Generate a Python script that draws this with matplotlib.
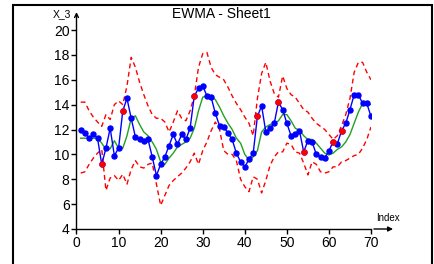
import matplotlib
matplotlib.use('Agg')
import matplotlib.pyplot as plt
from matplotlib.patches import Rectangle
import numpy as np

plt.rcParams['font.family'] = ['Liberation Sans', 'DejaVu Sans']

index = list(range(1, 71))

x3 = [12.0, 11.7, 11.3, 11.6, 11.3, 9.2, 10.5, 12.1, 9.9, 10.5,
      13.5, 14.5, 12.9, 11.4, 11.2, 11.1, 11.2, 9.8, 8.3, 9.2,
      9.8, 10.7, 11.6, 10.8, 11.6, 11.2, 12.1, 14.7, 15.3, 15.5,
      14.7, 14.6, 13.3, 12.3, 12.2, 11.7, 11.2, 10.1, 9.4, 9.0,
      9.6, 10.1, 13.05, 13.9, 11.8, 12.1, 12.5, 14.2, 13.6, 12.5,
      11.5, 11.6, 11.9, 10.2, 11.1, 11.0, 10.0, 9.8, 9.7, 10.3,
      11.0, 10.85, 11.9, 12.5, 13.6, 14.8, 14.8, 14.1, 14.1, 13.05]

ewma = [11.3, 11.3, 11.3, 11.3, 11.3, 10.9, 10.4, 10.45, 11.1, 10.5,
        10.5, 11.5, 12.9, 13.1, 12.4, 11.8, 11.5, 11.0, 10.4, 9.4,
        9.2, 9.7, 10.1, 10.6, 10.8, 11.0, 11.3, 12.1, 13.5, 14.6,
        14.7, 14.7, 14.4, 13.8, 13.1, 12.5, 12.0, 11.3, 10.9, 10.0,
        9.55, 9.8, 10.3, 11.8, 12.2, 12.4, 12.5, 12.7, 13.2, 13.2,
        12.7, 12.1, 11.95, 11.5, 11.2, 11.2, 10.9, 10.5, 10.1, 9.95,
        10.1, 10.4, 10.6, 11.0, 11.6, 12.5, 13.4, 14.1, 14.1, 14.0]

upper = [14.2, 14.2, 13.5, 13.0, 12.6, 12.25, 13.2, 12.8, 14.0, 14.3,
         14.0, 15.5, 17.8, 17.0, 15.8, 14.8, 13.9, 13.2, 12.9, 12.9,
         12.6, 11.8, 12.6, 13.5, 12.9, 12.7, 13.5, 14.7, 17.0, 18.1,
         18.2, 17.0, 16.4, 16.2, 16.0, 15.4, 14.7, 14.1, 13.6, 13.0,
         12.5, 11.5, 14.5, 16.5, 17.4, 15.9, 14.9, 14.6, 16.3, 15.3,
         14.8, 14.6, 14.1, 13.6, 13.4, 12.9, 12.5, 12.25, 12.0, 11.6,
         11.2, 11.5, 12.3, 13.2, 14.5, 16.6, 17.4, 17.4, 16.6, 16.0]

lower = [8.5, 8.6, 9.2, 9.7, 10.1, 10.4, 7.1, 8.1, 8.3, 7.9,
         8.4, 7.6, 8.8, 9.5, 9.0, 8.9, 9.2, 9.3, 7.6, 5.9,
         6.7, 7.5, 7.9, 8.2, 8.5, 8.9, 9.4, 10.1, 9.2, 10.3,
         11.0, 11.9, 12.6, 12.0, 10.3, 10.0, 10.0, 9.5, 8.0, 7.4,
         7.0, 8.2, 8.0, 6.9, 7.9, 9.1, 9.8, 10.2, 10.2, 10.9,
         10.8, 10.2, 10.1, 9.3, 8.35, 9.4, 9.2, 8.6, 8.5, 8.6,
         9.0, 9.0, 9.4, 9.5, 9.7, 9.9, 10.0, 10.5, 11.2, 12.2]

flagged = [6, 11, 28, 43, 48, 54, 61, 63]

fig = plt.figure(figsize=(4.35, 2.64), dpi=100)
ax = fig.add_axes([76.5 / 435, 1 - 229 / 264, 294.5 / 435, 199 / 264])

for lim in (upper, lower):
    ln, = ax.plot(index, lim, color='#FF0000', lw=1.0, zorder=2)
    ln.set_dashes([3.5, 2.5])
ax.plot(index, ewma, color='#22A022', lw=1.0, zorder=3)
ax.plot(index, x3, color='#0000FF', lw=1.0, marker='o', ms=3.6,
        mec='#0000FF', mfc='#0000FF', zorder=4)
fx = [i for i in flagged]
fy = [x3[i - 1] for i in flagged]
ax.plot(fx, fy, ls='none', marker='o', ms=3.6, color='#FF0000', zorder=5)

ax.set_xlim(0, 70)
ax.set_ylim(4, 20)
ax.set_xticks(range(0, 71, 10))
ax.set_yticks(range(4, 21, 2))
ax.spines['top'].set_visible(False)
ax.spines['right'].set_visible(False)
for s in ('left', 'bottom'):
    ax.spines[s].set_linewidth(1.0)
ax.tick_params(labelsize=10, length=3.5, width=1.0, pad=1.5)

# axis arrows
ax.annotate('', xy=(1.075, 0), xytext=(1.01, 0), xycoords='axes fraction',
            arrowprops=dict(arrowstyle='-|>', color='black', lw=1.0,
                            mutation_scale=7, shrinkA=0, shrinkB=0))
ax.annotate('', xy=(0, 1.09), xytext=(0, 1.0), xycoords='axes fraction',
            arrowprops=dict(arrowstyle='->', color='black', lw=1.0,
                            mutation_scale=7, shrinkA=0, shrinkB=0))

fig.text(62 / 435, 1 - 14 / 264, 'X_3', fontsize=7.5, ha='center', va='center')
fig.text(388 / 435, 1 - 218 / 264, 'Index', fontsize=7, ha='center', va='center')
fig.text(221 / 435, 1 - 14 / 264, 'EWMA - Sheet1', fontsize=10, ha='center', va='center')

fig.patches.append(Rectangle((13.5 / 435, -0.1), (432 - 13.5) / 435, 1.1 - 5 / 264,
                             transform=fig.transFigure, fill=False,
                             edgecolor='black', lw=1.5))

fig.savefig('out.png', dpi=100)
